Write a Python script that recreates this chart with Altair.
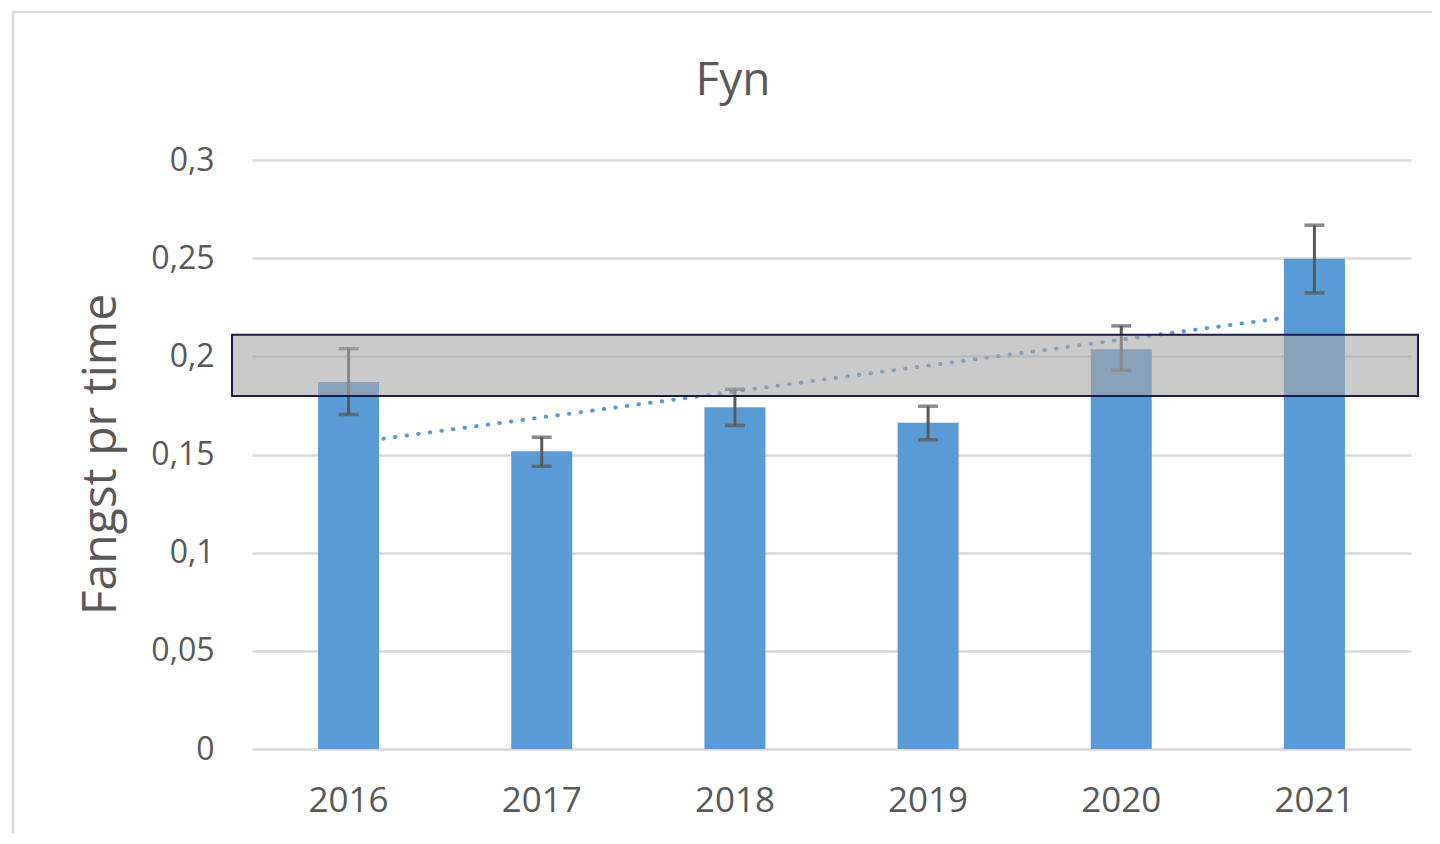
import altair as alt
import pandas as pd

# ---- data ----
years = [2016, 2017, 2018, 2019, 2020, 2021]
catch_per_hour = [0.1869, 0.1517, 0.1741, 0.1662, 0.2036, 0.2497]
err_low = [0.1704, 0.1440, 0.1648, 0.1575, 0.1929, 0.2323]
err_high = [0.2039, 0.1588, 0.1832, 0.1746, 0.2155, 0.2668]
band_low = [0.1798]
band_high = [0.2110]
y_ticks = [0, 0.05, 0.1, 0.15, 0.2, 0.25, 0.3]

df = pd.DataFrame({"year": years, "value": catch_per_hour, "lo": err_low, "hi": err_high})
band_df = pd.DataFrame({"lo": band_low, "hi": band_high})
frame_df = pd.DataFrame({"k": [0]})
title_df = pd.DataFrame({"t": ["Fyn"]})

W, H = 1159, 589
FONT = "Open Sans"
TXT = "#595959"
BLUE = "#5B9BD5"
YT = "Fangst pr time"

xscale = alt.Scale(paddingInner=0.684, paddingOuter=0.342)
x_enc = alt.X(
    "year:O",
    scale=xscale,
    axis=alt.Axis(
        title=None, labelAngle=0, domain=False, ticks=False, grid=False,
        labelFont=FONT, labelFontSize=35, labelColor=TXT, labelPadding=34,
    ),
)
y_enc = alt.Y(
    "value:Q",
    scale=alt.Scale(domain=[0, 0.3], nice=False),
    title=YT,
    axis=alt.Axis(
        values=y_ticks,
        labelExpr="replace(format(datum.value, '.2~f'), '.', ',')",
        domain=False, ticks=False, tickSize=0, labelPadding=38,
        labelFont=FONT, labelFontSize=32, labelColor=TXT,
        grid=True, gridColor="#d9d9d9", gridWidth=2.5,
        titleFont=FONT, titleFontSize=48, titleColor=TXT, titleFontWeight="normal",
        titleAngle=270, titleX=-151, titleY=294, titleAlign="center", titleBaseline="middle",
    ),
)

base = alt.Chart(df)

border = alt.Chart(frame_df).mark_rect(
    fill="white", fillOpacity=0, stroke="#d9d9d9", strokeWidth=2.5
).encode(
    x=alt.value(-239), x2=alt.value(W + 60), y=alt.value(-148), y2=alt.value(H + 150)
)

title = alt.Chart(title_df).mark_text(
    font=FONT, fontSize=46, color=TXT, align="center", baseline="alphabetic"
).encode(x=alt.value(481), y=alt.value(-65), text="t:N")

trend = base.transform_regression("year", "value").mark_line(
    color=BLUE, strokeWidth=4, strokeDash=[0.5, 11.2], strokeCap="round"
).encode(x=alt.X("year:O", scale=xscale), y=alt.Y("value:Q", title=YT))

bars = base.mark_bar(color=BLUE).encode(x=x_enc, y=y_enc)

rules = base.mark_rule(color=TXT, strokeWidth=3).encode(
    x=alt.X("year:O", scale=xscale), y=alt.Y("lo:Q", title=YT), y2="hi:Q"
)
cap_lo = base.mark_tick(color=TXT, thickness=3.5, size=20).encode(
    x=alt.X("year:O", scale=xscale), y=alt.Y("lo:Q", title=YT)
)
cap_hi = base.mark_tick(color=TXT, thickness=3.5, size=20).encode(
    x=alt.X("year:O", scale=xscale), y=alt.Y("hi:Q", title=YT)
)

band = alt.Chart(band_df).mark_rect(
    fill="#a6a6a6", fillOpacity=0.6, stroke="#1c1c4c", strokeWidth=2
).encode(
    x=alt.value(-20), x2=alt.value(W + 7), y=alt.Y("lo:Q", title=YT), y2="hi:Q"
)

chart = alt.layer(border, title, bars, trend, rules, cap_lo, cap_hi, band).properties(
    width=W,
    height=H,
    autosize=alt.AutoSizeParams(type="none"),
    padding={"left": 244, "top": 152, "right": 21, "bottom": 84},
    background="white",
).configure_view(stroke=None)

chart.save("out.html", embed_options={"renderer": "svg", "actions": False})
